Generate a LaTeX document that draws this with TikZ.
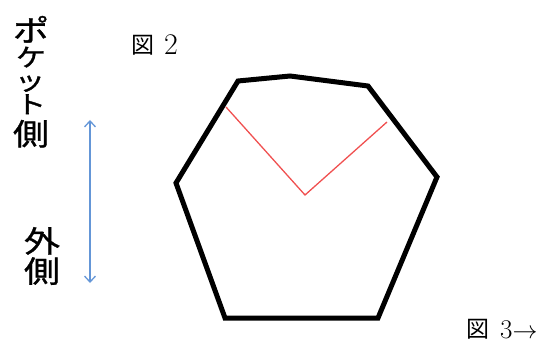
\documentclass[tikz,border=0pt]{standalone}
\usepackage{fontspec}
\newfontfamily\cjk{Noto Sans CJK JP}
\newfontfamily\cjkwide[FakeStretch=1.2,FakeBold=1.2]{Noto Sans CJK JP}
\usetikzlibrary{arrows.meta}
\definecolor{arrowblue}{RGB}{100,150,215}
\definecolor{softred}{RGB}{240,80,80}
\begin{document}
\begin{tikzpicture}[x=1pt,y=-1pt,
  vchar/.style={inner sep=0pt,anchor=base,text height=0.86em,text depth=0.07em,font=\cjkwide\fontsize{30}{32}\selectfont},
  vkana/.style={inner sep=0pt,anchor=base,text height=0.82em,text depth=0.05em,font=\cjkwide\fontsize{25}{27}\selectfont},
  vsmall/.style={vkana,text height=0.55em},
  figkanji/.style={inner sep=0pt,anchor=base west,font=\cjk\fontsize{23}{25}\selectfont},
  fignum/.style={inner sep=0pt,anchor=base west,font=\fontsize{30}{32}\selectfont}]
\useasboundingbox (0,0) rectangle (544,342);
% outline
\coordinate (p1) at (238,81);
\coordinate (p2) at (290,76);
\coordinate (p3) at (368,86);
\coordinate (p4) at (437,177);
\coordinate (p5) at (378,318);
\coordinate (p6) at (225,318);
\coordinate (p7) at (176,183);
\draw[line width=5pt,line join=miter] (p1) -- (p2) -- (p3) -- (p4) -- (p5) -- (p6) -- (p7) -- cycle;
% red V
\coordinate (r1) at (226,107);
\coordinate (r2) at (305,195);
\coordinate (r3) at (387,122);
\draw[softred,line width=1.3pt] (r1) -- (r2) -- (r3);
% blue arrow
\coordinate (a1) at (90,120);
\coordinate (a2) at (90,283);
\draw[arrowblue,line width=1.3pt,{Straight Barb[length=6pt,width=11pt]}-{Straight Barb[length=6pt,width=11pt]}] (a1) -- (a2);
% vertical texts
\node[vchar] (c1) at (31,41.4) {ポ};
\node[vkana] (c2) at (31,66.5) {ケ};
\node[vsmall] (c3) at (30,90) {ッ};
\node[vkana] (c4) at (31,113.5) {ト};
\node[vchar] (c5) at (31,145) {側};
\node[vchar] (d1) at (42,252.4) {外};
\node[vchar] (d2) at (42,282.4) {側};
% figure labels
\node[figkanji] (f2k) at (131,54) {図};
\node[fignum] (f2n) at (164,55) {2};
\node[figkanji] (f3k) at (466,337) {図};
\node[fignum,font=\fontsize{27}{29}\selectfont] (f3n) at (500,338) {3$\rightarrow$};
\end{tikzpicture}
\end{document}
